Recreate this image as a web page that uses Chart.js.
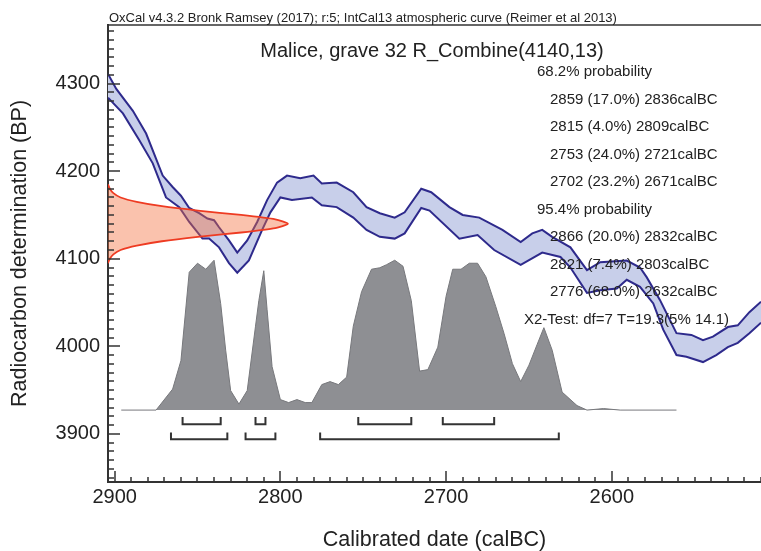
<!DOCTYPE html>
<html>
<head>
<meta charset="utf-8">
<script src="https://cdn.jsdelivr.net/npm/chart.js@4"></script>
<style>
  html, body { margin: 0; padding: 0; background: #fff; }
  canvas { display: block; }
</style>
</head>
<body>
<canvas id="chart" width="761" height="551"></canvas>
<script>
// Calibration curve (IntCal13), upper and lower edge of the 1-sigma band
const upperYears = [2904, 2899, 2889, 2881, 2871, 2865, 2860, 2855, 2849, 2844, 2840, 2837, 2831, 2826, 2820,
    2814, 2808, 2802, 2796, 2788, 2780, 2775, 2766, 2756, 2748, 2740, 2731, 2725, 2715, 2709,
    2698, 2690, 2680, 2666, 2655, 2648, 2642, 2636, 2625, 2615, 2607, 2591, 2583, 2579, 2571,
    2561, 2552, 2545, 2539, 2530, 2524, 2517, 2510];
const upperBP = [4311, 4294, 4269, 4243, 4195, 4182, 4172, 4158, 4152, 4146, 4144, 4136, 4121, 4107, 4121,
    4142, 4167, 4187, 4195, 4192, 4195, 4186, 4187, 4176, 4159, 4152, 4147, 4153, 4180, 4176,
    4159, 4150, 4147, 4133, 4119, 4129, 4133, 4125, 4113, 4087, 4096, 4098, 4090, 4079, 4053,
    4015, 4013, 4007, 4011, 4022, 4024, 4039, 4051];
const lowerYears = [2904, 2895, 2885, 2877, 2869, 2861, 2855, 2847, 2843, 2837, 2831, 2826, 2819, 2811, 2806,
    2800, 2793, 2781, 2775, 2766, 2756, 2748, 2740, 2731, 2725, 2715, 2710, 2692, 2681, 2671,
    2655, 2642, 2631, 2625, 2615, 2607, 2597, 2591, 2583, 2575, 2569, 2561, 2555, 2545, 2537,
    2530, 2524, 2517, 2510];
const lowerBP = [4284, 4266, 4235, 4209, 4170, 4159, 4142, 4123, 4123, 4113, 4095, 4084, 4098, 4133, 4153,
    4170, 4167, 4170, 4161, 4159, 4147, 4133, 4125, 4123, 4129, 4158, 4155, 4123, 4127, 4110,
    4093, 4107, 4102, 4090, 4061, 4064, 4066, 4076, 4068, 4049, 4019, 3990, 3988, 3982, 3990,
    3999, 4004, 4015, 4027];

// Radiocarbon date R_Combine(4140,13), relative probability
const dateBP = [4185, 4180, 4175, 4170, 4165, 4160, 4155, 4150, 4145, 4140,
    4135, 4130, 4125, 4120, 4115, 4110, 4105, 4100, 4095];
const dateProb = [0, 0.01, 0.03, 0.07, 0.16, 0.30, 0.50, 0.74, 0.93, 1.0,
    0.93, 0.74, 0.50, 0.30, 0.16, 0.07, 0.03, 0.01, 0];

// Calibrated date, relative probability
const calYears = [2896, 2875, 2865, 2860, 2855, 2850, 2845, 2840, 2836, 2833, 2830, 2825, 2820, 2815, 2813,
    2810, 2808, 2805, 2800, 2795, 2790, 2785, 2781, 2775, 2770, 2765, 2760, 2756, 2751, 2745,
    2740, 2736, 2731, 2726, 2721, 2716, 2711, 2705, 2700, 2696, 2691, 2686, 2681, 2676, 2670,
    2665, 2660, 2655, 2650, 2645, 2641, 2636, 2630, 2621, 2615, 2605, 2595, 2561];
const calProb = [0, 0, 0.14, 0.33, 0.92, 0.98, 0.94, 1.0, 0.71, 0.40, 0.13, 0.04, 0.13, 0.56, 0.73,
    0.93, 0.67, 0.29, 0.07, 0.05, 0.07, 0.05, 0.05, 0.17, 0.19, 0.17, 0.22, 0.56, 0.79, 0.94,
    0.95, 0.97, 1.0, 0.96, 0.73, 0.26, 0.27, 0.42, 0.76, 0.94, 0.94, 0.98, 0.98, 0.89, 0.69,
    0.51, 0.31, 0.19, 0.30, 0.44, 0.55, 0.40, 0.12, 0.03, 0, 0.01, 0, 0];

// Ranges (calBC)
const range68From = [2859, 2815, 2753, 2702];
const range68To = [2836, 2809, 2721, 2671];
const range68Pct = ['17.0', '4.0', '24.0', '23.2'];
const range95From = [2866, 2821, 2776];
const range95To = [2832, 2803, 2632];
const range95Pct = ['20.0', '7.4', '68.0'];

// Axis labels
const xTickValues = [2900, 2800, 2700, 2600];
const yTickValues = [3900, 4000, 4100, 4200, 4300];

const FONT = '"Liberation Sans", Arial, Helvetica, sans-serif';
const INK = '#222';

const toPoints = (xs, ys) => xs.map((x, i) => ({ x: x, y: ys[i] }));

// bracket rows drawn under the calibrated distribution (yd axis units)
function bracketPoints(from, to, level, lip) {
    const pts = [];
    from.forEach((f, i) => {
        pts.push({ x: f, y: level + lip }, { x: f, y: level }, { x: to[i], y: level }, { x: to[i], y: level + lip });
        pts.push({ x: to[i], y: null });
    });
    return pts;
}

const textLines = [];
textLines.push({ t: '68.2% probability', x: 537 });
range68From.forEach((f, i) => textLines.push({ t: f + ' (' + range68Pct[i] + '%) ' + range68To[i] + 'calBC', x: 550 }));
textLines.push({ t: '95.4% probability', x: 537 });
range95From.forEach((f, i) => textLines.push({ t: f + ' (' + range95Pct[i] + '%) ' + range95To[i] + 'calBC', x: 550 }));
textLines.push({ t: 'X2-Test: df=7 T=19.3(5% 14.1)', x: 524 });

const decorations = {
    id: 'decorations',
    afterDatasetsDraw(chart) {
        const { ctx, chartArea: a, scales: { x, y } } = chart;
        ctx.save();
        ctx.strokeStyle = '#333';
        ctx.lineWidth = 1.5;
        ctx.beginPath();
        for (let v = Math.ceil(y.min / 10) * 10; v <= y.max; v += 10) {
            const py = Math.round(y.getPixelForValue(v));
            ctx.moveTo(a.left, py);
            ctx.lineTo(a.left + (v % 100 === 0 ? 12 : 6), py);
        }
        for (let v = Math.ceil(x.min / 10) * 10; v <= x.max; v += 10) {
            const px = Math.round(x.getPixelForValue(v));
            ctx.moveTo(px, a.bottom);
            ctx.lineTo(px, a.bottom - (v % 100 === 0 ? 11 : 5));
        }
        ctx.stroke();

        // top frame line
        ctx.beginPath();
        ctx.moveTo(a.left, a.top);
        ctx.lineTo(a.right, a.top);
        ctx.stroke();

        ctx.fillStyle = INK;
        ctx.textBaseline = 'alphabetic';
        ctx.textAlign = 'left';
        ctx.font = '13px ' + FONT;
        ctx.fillText('OxCal v4.3.2 Bronk Ramsey (2017); r:5; IntCal13 atmospheric curve (Reimer et al 2013)', 109, 22);

        ctx.font = '20px ' + FONT;
        ctx.textAlign = 'center';
        ctx.fillText('Malice, grave 32 R_Combine(4140,13)', 432, 57);

        ctx.font = '15px ' + FONT;
        ctx.textAlign = 'left';
        textLines.forEach((l, i) => ctx.fillText(l.t, l.x, 76 + i * 27.5));
        ctx.restore();
    }
};

const ctx = document.getElementById('chart').getContext('2d');
new Chart(ctx, {
    type: 'line',
    data: {
        datasets: [
            {
                // calibrated distribution
                data: toPoints(calYears, calProb),
                yAxisID: 'yd',
                borderColor: '#77787c',
                borderWidth: 1,
                backgroundColor: '#8e8f93',
                fill: 'origin',
                pointRadius: 0,
                order: 6
            },
            {
                data: toPoints(upperYears, upperBP),
                borderColor: '#2e2a8c',
                borderWidth: 2,
                pointRadius: 0,
                fill: false,
                order: 4
            },
            {
                data: toPoints(lowerYears, lowerBP),
                borderColor: '#2e2a8c',
                borderWidth: 2,
                backgroundColor: '#c8cfea',
                pointRadius: 0,
                fill: '-1',
                order: 5
            },
            {
                // radiocarbon date on the BP axis
                data: toPoints(dateProb, dateBP),
                xAxisID: 'xd',
                borderColor: '#ee3b22',
                borderWidth: 1.8,
                backgroundColor: 'rgba(243, 110, 60, 0.42)',
                fill: 'shape',
                tension: 0.2,
                pointRadius: 0,
                order: 3
            },
            {
                data: bracketPoints(range68From, range68To, -0.095, 0.048),
                yAxisID: 'yd',
                borderColor: '#333',
                borderWidth: 2,
                pointRadius: 0,
                fill: false,
                spanGaps: false,
                order: 1
            },
            {
                data: bracketPoints(range95From, range95To, -0.195, 0.045),
                yAxisID: 'yd',
                borderColor: '#333',
                borderWidth: 2,
                pointRadius: 0,
                fill: false,
                spanGaps: false,
                order: 1
            }
        ]
    },
    options: {
        responsive: false,
        animation: false,
        devicePixelRatio: 1,
        layout: { padding: { top: 25, right: 0, left: 0, bottom: 0 } },
        plugins: {
            legend: { display: false },
            tooltip: { enabled: false }
        },
        scales: {
            x: {
                type: 'linear',
                position: 'bottom',
                reverse: true,
                min: 2510,
                max: 2904,
                grid: { display: false, drawTicks: false },
                border: { display: true, color: '#333', width: 2 },
                afterBuildTicks: s => { s.ticks = xTickValues.map(v => ({ value: v })); },
                ticks: {
                    maxRotation: 0,
                    autoSkip: false,
                    padding: 3,
                    color: INK,
                    font: { family: FONT, size: 20 },
                    callback: v => String(v)
                },
                title: {
                    display: true,
                    text: 'Calibrated date (calBC)',
                    color: INK,
                    font: { family: FONT, size: 21.5, lineHeight: 1 },
                    padding: { top: 0, bottom: 0 }
                },
                afterFit: s => { s.height = 69; }
            },
            y: {
                type: 'linear',
                position: 'left',
                min: 3845,
                max: 4367,
                grid: { display: false, drawTicks: false },
                border: { display: true, color: '#333', width: 2 },
                afterBuildTicks: s => { s.ticks = yTickValues.map(v => ({ value: v })); },
                ticks: {
                    autoSkip: false,
                    padding: 8,
                    color: INK,
                    font: { family: FONT, size: 20 },
                    callback: v => String(v)
                },
                title: {
                    display: true,
                    text: 'Radiocarbon determination (BP)',
                    color: INK,
                    font: { family: FONT, size: 21.5, lineHeight: 1 },
                    padding: { top: 9, bottom: 0 }
                },
                afterFit: s => { s.width = 108; }
            },
            xd: {
                type: 'linear',
                axis: 'x',
                display: false,
                min: 0,
                max: 3.63
            },
            yd: {
                type: 'linear',
                axis: 'y',
                display: false,
                min: -0.48,
                max: 2.57
            }
        }
    },
    plugins: [decorations]
});
</script>
</body>
</html>
